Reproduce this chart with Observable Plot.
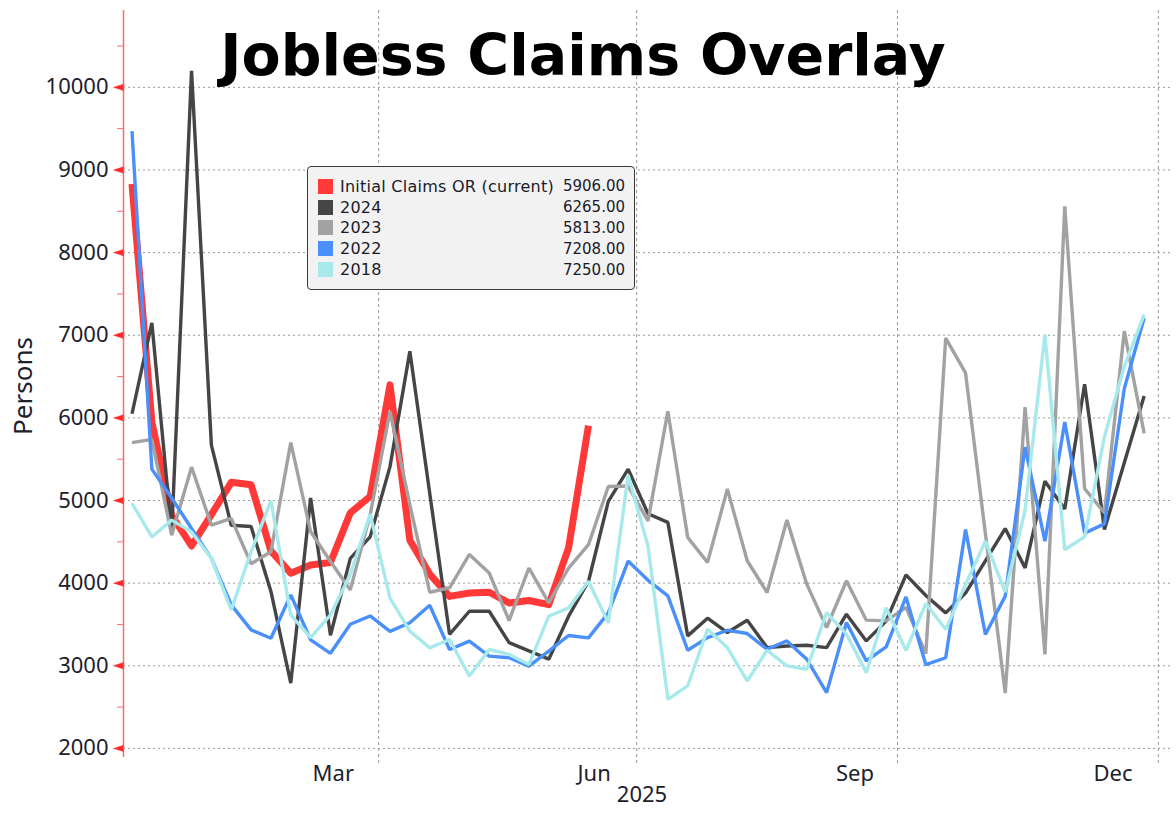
<!DOCTYPE html>
<html>
<head>
<meta charset="utf-8">
<script src="https://cdn.jsdelivr.net/npm/d3@7"></script>
<script src="https://cdn.jsdelivr.net/npm/@observablehq/plot@0.6"></script>
<style>
  body { margin: 0; background: #fff; }
  #wrap { position: relative; width: 1176px; height: 814px; overflow: hidden; background: #fff; }
  #title { position: absolute; left: 0; width: 1166px; top: 27px; text-align: center;
           font: bold 57px/57px "DejaVu Sans", Verdana, sans-serif; color: #000; white-space: nowrap; }
  #legend { position: absolute; left: 307px; top: 166px; width: 328px; height: 124px; box-sizing: border-box;
            background: #f2f2f2; border: 1.5px solid #3a3a3a; border-radius: 4px; padding: 9px 9px 0 10px;
            font: 15px "DejaVu Sans", sans-serif; color: #1a1a2a; }
  .row { display: flex; align-items: center; height: 20.8px; }
  .sw { width: 15px; height: 15px; margin-right: 7px; flex: none; }
  .lab { flex: 1; white-space: nowrap; font-size: 16px; letter-spacing: 0.25px; }
  .val { white-space: nowrap; }
</style>
</head>
<body>
<div id="wrap">
  <div id="chart"></div>
  <div id="title">Jobless Claims Overlay</div>
  <div id="legend"></div>
</div>
<script>
// ---- data (week-ending Saturdays of 2025) ----
const weekEnding = d3.utcSaturday.range(new Date("2025-01-04T00:00:00Z"), new Date("2025-12-28T00:00:00Z"));

const seriesNames  = ["Initial Claims OR (current)", "2024", "2023", "2022", "2018"];
const seriesColors = ["#ff3838", "#454545", "#a2a2a2", "#4a8ffa", "#a8eaec"];

const current = [8830, 5950, 4820, 4450, 4830, 5220, 5190, 4390, 4120, 4220, 4250, 4850, 5050,
                 6400, 4520, 4110, 3840, 3880, 3890, 3760, 3790, 3740, 4430, 5906];
const y2024 = [6050, 7150, 4600, 10200, 5670, 4700, 4685, 3900, 2790, 5030, 3370, 4300, 4560,
               5410, 6805, 5090, 3380, 3660, 3660, 3280, 3180, 3080, 3600, 4020, 4990, 5380, 4840,
               4735, 3362, 3576, 3402, 3551, 3220, 3240, 3248, 3220, 3624, 3301, 3540, 4100,
               3850, 3640, 3880, 4270, 4660, 4185, 5234, 4897, 6408, 4650, 5457, 6265];
const y2023 = [5700, 5740, 4580, 5404, 4702, 4784, 4235, 4380, 5700, 4625, 4262, 3918, 4827,
               6078, 4950, 3890, 3944, 4347, 4123, 3547, 4183, 3761, 4183, 4465, 5169, 5175, 4752,
               6081, 4554, 4251, 5139, 4271, 3887, 4764, 3988, 3463, 4028, 3552, 3543, 3707,
               3148, 6965, 6544, 4600, 2670, 6129, 3137, 8560, 5143, 4852, 7049, 5813];
const y2022 = [9470, 5380, 5030, 4661, 4300, 3737, 3434, 3333, 3858, 3313, 3151, 3503, 3603,
               3416, 3521, 3732, 3197, 3298, 3117, 3097, 2996, 3177, 3366, 3338, 3640, 4267, 4035,
               3846, 3188, 3341, 3430, 3390, 3200, 3301, 3079, 2675, 3523, 3059, 3228, 3833,
               3013, 3097, 4649, 3379, 3843, 5645, 4508, 5951, 4605, 4717, 6354, 7208];
const y2018 = [4967, 4559, 4763, 4620, 4300, 3676, 4380, 4996, 3616, 3341, 3616, 4108, 4835,
               3819, 3419, 3217, 3318, 2875, 3197, 3137, 3016, 3600, 3700, 4022, 3519, 5305, 4449,
               2594, 2756, 3442, 3220, 2816, 3188, 2998, 2958, 3644, 3382, 2917, 3703, 3185,
               3753, 3440, 3984, 4508, 3891, 4879, 7008, 4404, 4561, 5771, 6623, 7250];

const yMajorTicks = [2000, 3000, 4000, 5000, 6000, 7000, 8000, 9000, 10000];
const yMinorTicks = [2500, 3500, 4500, 5500, 6500, 7500, 8500, 9500, 10500];
const xTickLabels = ["Mar", "Jun", "Sep", "Dec"];
const xTickDates  = ["2025-03-16", "2025-06-16", "2025-09-16", "2025-12-16"];
const xGridDates  = ["2025-04-01", "2025-07-01", "2025-10-01", "2026-01-01"];
const yearLabel = "2025";
const yLabel = "Persons";

// ---- build ----
const allSeries = [current, y2024, y2023, y2022, y2018];
const toRows = (vals) => vals.map((v, i) => ({date: weekEnding[i], value: v}));
const xStart = new Date("2025-01-01T00:00:00Z");
const xEnd = new Date("2026-01-06T00:00:00Z");
const tickDates = xTickDates.map(s => new Date(s + "T00:00:00Z"));
const labelByTime = new Map(tickDates.map((d, i) => [+d, xTickLabels[i]]));
const gridDates = xGridDates.map(s => new Date(s + "T00:00:00Z"));
const axisRed = "#ff6b6b";
const tickRed = "#ff2a2a";
const textColor = "#20202a";

const widths = [7, 3.4, 3.4, 3.4, 3.4];
const lineMarks = allSeries.map((vals, k) =>
  Plot.line(toRows(vals), {
    x: "date", y: "value", stroke: seriesColors[k], strokeWidth: widths[k],
    strokeLinejoin: k === 0 ? "round" : "miter", strokeLinecap: "butt"
  })
);

const chart = Plot.plot({
  width: 1176, height: 814,
  marginLeft: 123, marginRight: 4, marginTop: 10, marginBottom: 57,
  x: {type: "utc", domain: [xStart, xEnd]},
  y: {domain: [1890, 10930]},
  style: {fontFamily: "'Noto Sans', sans-serif", fontSize: "22px", color: textColor, background: "white"},
  marks: [
    Plot.ruleY(yMajorTicks, {stroke: "#9a9a9a", strokeDasharray: "2,3", strokeWidth: 1}),
    Plot.ruleX(gridDates, {stroke: "#9a9a9a", strokeDasharray: "3,3", strokeWidth: 1, insetBottom: -6}),
    ...lineMarks,
    Plot.ruleX([xStart], {stroke: axisRed, strokeWidth: 1.5}),
    Plot.axisY({ticks: yMinorTicks, tickSize: 6, stroke: axisRed, tickFormat: () => "", label: null}),
    Plot.vector(yMajorTicks, {x: () => xStart, y: d => d, length: 10, rotate: 270, shape: "spike",
                              r: 3.2, fill: tickRed, stroke: tickRed, strokeWidth: 0.5, anchor: "start"}),
    Plot.axisY({ticks: yMajorTicks, tickSize: 0, tickPadding: 15, tickFormat: d => String(d), label: null, fontSize: 22}),
    Plot.axisX({ticks: tickDates, tickSize: 0, tickPadding: 8, tickFormat: d => labelByTime.get(+d), label: null, fontSize: 22}),
    Plot.text([yearLabel], {frameAnchor: "bottom", text: d => d, dy: 44, dx: -6, fontSize: 22, fill: textColor}),
    Plot.text([yLabel], {frameAnchor: "left", text: d => d, dx: -100, dy: 2, rotate: -90, textAnchor: "middle",
                         fontSize: 26, fill: textColor})
  ]
});
document.getElementById("chart").appendChild(chart);

// ---- legend ----
const legend = document.getElementById("legend");
allSeries.forEach((vals, k) => {
  const row = document.createElement("div");
  row.className = "row";
  row.innerHTML = `<span class="sw" style="background:${seriesColors[k]}"></span>` +
                  `<span class="lab">${seriesNames[k]}</span>` +
                  `<span class="val">${vals[vals.length - 1].toFixed(2)}</span>`;
  legend.appendChild(row);
});
</script>
</body>
</html>
